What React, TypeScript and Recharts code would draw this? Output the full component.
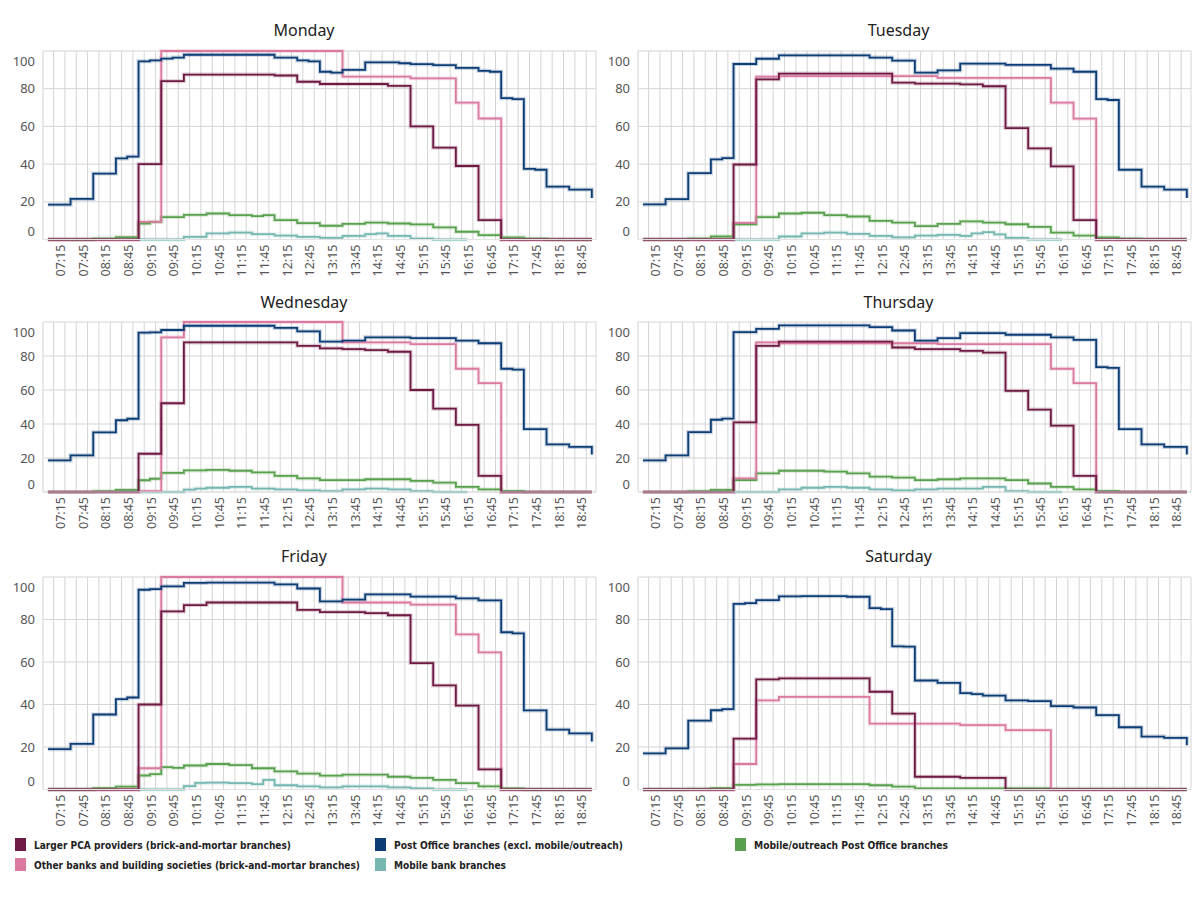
import { LineChart, Line, XAxis, YAxis, CartesianGrid } from "recharts";

const N = null;

// 15-minute slots, 07:00 .. 18:45
const SLOTS = [
  "07:00", "07:15", "07:30", "07:45", "08:00", "08:15", "08:30", "08:45",
  "09:00", "09:15", "09:30", "09:45", "10:00", "10:15", "10:30", "10:45",
  "11:00", "11:15", "11:30", "11:45", "12:00", "12:15", "12:30", "12:45",
  "13:00", "13:15", "13:30", "13:45", "14:00", "14:15", "14:30", "14:45",
  "15:00", "15:15", "15:30", "15:45", "16:00", "16:15", "16:30", "16:45",
  "17:00", "17:15", "17:30", "17:45", "18:00", "18:15", "18:30", "18:45",
];

const TICK_LABELS = [
  "07:15", "07:45", "08:15", "08:45", "09:15", "09:45", "10:15", "10:45",
  "11:15", "11:45", "12:15", "12:45", "13:15", "13:45", "14:15", "14:45",
  "15:15", "15:45", "16:15", "16:45", "17:15", "17:45", "18:15", "18:45",
];

const Y_TICKS = [0, 20, 40, 60, 80, 100];

// 48 slot values + the closing value drawn at the right end of each step line
const MON_PCA = [0,0,0,0,0,0,0,0, 40,40,84,84, 87.5,87.5,87.5,87.5,87.5,87.5,87.5,87.5, 87,87,83.7,83.7, 82.5,82.5,82.5,82.5,82.5,82.5,81.5,81.5, 60,60,48.7,48.7, 39,39,10.3,10.3, 0,0,0,0,0,0,0,0, 0];
const MON_PO = [18.5,18.5,21.5,21.5,35,35,43,44, 94.5,95,96,96.5, 98,98,98,98,98,98,98,98, 96.5,96.5,95,94.5, 89,88.5,90,90,94,94,94,93.5, 93,93,92.5,92.5, 91,91,89.5,89, 75,74.5,37.5,37,28,28,26.5,26.5, 22];
const MON_MOB_PO = [0,0,0,0,0.5,0.5,1.2,1.2, 8.5,9.4,11.9,11.9, 13.1,13.1,13.8,13.8,12.9,12.9,12.4,12.9, 10.3,10.3,8.7,8.7, 7.3,7.3,8.3,8.3,9,9,8.5,8.5, 8,8,6.4,6.4, 4.1,4.1,2.3,2.3, 1.1,1.1,0.4,0.4,0,0,0,0, 0];
const MON_OTHER = [0,0,0,0,0,0,0,0, 9.4,9.4,100,100, 100,100,100,100,100,100,100,100, 100,100,100,100, 100,100,86.4,86.4,86.4,86.4,86.4,86.4, 85.5,85.5,85.5,85.5, 72.6,72.6,64.2,64.2, 0,0,0,0,0,0,0,0, 0];
const MON_MOB_BANK = [N,N,N,N,N,N,N,N, 0,0,0,0, 1.4,1.4,3.2,3.2,3.7,3.7,2.8,2.8, 2.1,2.1,1.4,1.4, 0.9,0.9,1.9,1.9,2.8,3.2,1.9,1.9, 0.5,0.5,0,0, 0,0,N,N, N,N,N,N,N,N,N,N, N];

const TUE_PCA = [0,0,0,0,0,0,0,0, 39.8,39.8,85,85, 88,88,88,88,88,88,88,88, 88,88,83.2,83.2, 82.7,82.7,82.7,82.7,82.3,82.3,81.3,81.3, 59.1,59.1,48.3,48.3, 38.8,38.8,10.3,10.3, 0,0,0,0,0,0,0,0, 0];
const TUE_PO = [18.6,18.6,21.4,21.4,35.2,35.2,42.5,43.2, 93.1,93.1,95.9,95.9, 97.7,97.7,97.7,97.7,97.7,97.7,97.7,97.7, 96.5,96.5,94.9,94.9, 88.5,88.5,89.7,89.7,93.3,93.3,93.3,93.3, 92.6,92.6,92.6,92.6, 90.6,90.6,89,89, 74.5,74,37,37,28,28,26.5,26.5, 22];
const TUE_MOB_PO = [0,0,0,0,0.5,0.5,1.6,1.6, 8.1,8.1,11.9,11.9, 13.8,13.8,14.2,14.2,12.9,12.9,12.2,12.2, 9.9,9.9,9,9, 7.1,7.1,8.3,8.3,9.6,9.6,9,9, 8.1,8.1,6.7,6.7, 3.7,3.7,2.1,2.1, 1.1,1.1,0.4,0.4,0,0,0,0, 0];
const TUE_OTHER = [0,0,0,0,0,0,0,0, 8.8,8.8,86.4,86.4, 86.7,86.7,86.7,86.7,86.7,86.7,86.7,86.7, 86.7,86.7,86.7,86.7, 86.7,86.7,85.7,85.7,85.7,85.7,85.7,85.7, 85.7,85.7,85.7,85.7, 72.6,72.6,64.1,64.1, 0,0,0,0,0,0,0,0, 0];
const TUE_MOB_BANK = [N,N,N,N,N,N,N,N, 0,0,0,0, 1.6,1.6,3.2,3.2,3.7,3.7,3,3, 1.9,1.9,1.1,1.1, 2.1,2.1,2.5,2.5,1.9,3.2,3.9,2.7, 0.9,0.9,0,0, 0,0,N,N, N,N,N,N,N,N,N,N, N];

const WED_PCA = [0,0,0,0,0,0,0,0, 22.5,22.5,52.2,52.2, 88,88,88,88,88,88,88,88, 88,88,86,86, 84.5,84.5,84,84,83.5,83.5,82.5,82.5, 60,60,49,49, 39.5,39.5,9.5,9.5, 0,0,0,0,0,0,0,0, 0];
const WED_PO = [18.6,18.6,21.6,21.6,35.1,35.1,42.2,43.1, 93.7,93.9,95.3,95.3, 97.8,97.8,97.8,97.8,97.8,97.8,97.8,97.8, 96.5,96.5,94.5,94.5, 88.5,88.5,89,89,91,91,91,91, 90.5,90.5,90.5,90.5, 89,89,87.5,87.5, 72.5,72,37,37,28,28,26.5,26.5, 22];
const WED_MOB_PO = [0,0,0,0,0.4,0.4,1.2,1.2, 6.9,7.8,11.2,11.2, 12.7,12.7,13,13,12.5,12.5,11.5,11.5, 9.5,9.5,8,8, 7,7,7,7,7.5,7.5,7.5,7.5, 6.5,6.5,5.5,5.5, 3,3,1.5,1.5, 0.5,0.5,0,0,0,0,0,0, 0];
const WED_OTHER = [0,0,0,0,0,0,0,0, 0.5,0.5,91,91, 100,100,100,100,100,100,100,100, 100,100,100,100, 100,100,88,88,88,88,88,88, 87,87,87,87, 72.5,72.5,64,64, 0,0,0,0,0,0,0,0, 0];
const WED_MOB_BANK = [N,N,N,N,N,N,N,N, 0,0,0,0, 1.4,2,2.5,2.5,3,3,2,2, 1.5,1.5,1,1, 0.5,0.5,1.5,1.5,2,2,1.5,1.5, 0.5,0.5,0,0, 0,0,N,N, N,N,N,N,N,N,N,N, N];

const THU_PCA = [0,0,0,0,0,0,0,0, 41,41,86,86, 88.5,88.5,88.5,88.5,88.5,88.5,88.5,88.5, 88.5,88.5,85,85, 84,84,84,84,83,83,82,82, 59.5,59.5,48.5,48.5, 39,39,9.5,9.5, 0,0,0,0,0,0,0,0, 0];
const THU_PO = [18.6,18.6,21.5,21.5,35.2,35.2,42.5,43.2, 94,94,96,96, 98,98,98,98,98,98,98,98, 97,97,95,95, 89,89,90.5,90.5,93.5,93.5,93.5,93.5, 92.5,92.5,92.5,92.5, 91,91,89.5,89.5, 73.5,73,37,37,28,28,26.5,26.5, 22];
const THU_MOB_PO = [0,0,0,0,0.4,0.4,1.2,1.2, 7,7,11,11, 12.5,12.5,12.5,12.5,12,12,11,11, 9,9,8.5,8.5, 7,7,7.5,7.5,8,8,8,8, 7,7,5,5, 3,3,1.5,1.5, 0.5,0.5,0,0,0,0,0,0, 0];
const THU_OTHER = [0,0,0,0,0,0,0,0, 8,8,88,88, 87.5,87.5,87.5,87.5,87.5,87.5,87.5,87.5, 87.5,87.5,87.5,87.5, 87.5,87.5,87,87,87,87,87,87, 87,87,87,87, 72.5,72.5,64,64, 0,0,0,0,0,0,0,0, 0];
const THU_MOB_BANK = [N,N,N,N,N,N,N,N, 0,0,0,0, 1.5,1.5,2.5,2.5,3,3,2.5,2.5, 1.5,1.5,1,1, 1.5,1.5,2,2,2,2,3,3, 0.5,0.5,0,0, 0,0,N,N, N,N,N,N,N,N,N,N, N];

const FRI_PCA = [0,0,0,0,0,0,0,0, 40,40,83.8,83.8, 86.8,86.8,88,88,88,88,88,88, 88,88,84.5,84.5, 83.5,83.5,83.5,83.5,83,83,82,82, 59.5,59.5,49,49, 39.5,39.5,9.5,9.5, 0,0,0,0,0,0,0,0, 0];
const FRI_PO = [19,19,21.5,21.5,35.3,35.3,42.5,43.3, 94,94.3,95.6,95.6, 97.2,97.2,97.4,97.4,97.4,97.4,97.4,97.4, 96.5,96.5,94.6,94.6, 88.5,88.5,89.4,89.4,91.8,91.8,91.8,91.8, 90.8,90.8,90.8,90.8, 89.9,89.9,89,89, 74,73.5,37.2,37.2,28.2,28.2,26.4,26.4, 22.6];
const FRI_MOB_PO = [0,0,0,0,0.6,0.6,1.4,1.4, 6.6,7.2,10.5,10.2, 11.3,11.3,12,12,11.5,11.5,10,10, 8.5,8.5,7.5,7.5, 6.5,6.5,7,7,7,7,6,6, 5.5,5.5,4.5,4.5, 3,3,1.5,1.5, 0.5,0.5,0,0,0,0,0,0, 0];
const FRI_OTHER = [0,0,0,0,0,0,0,0, 10,10,100,100, 100,100,100,100,100,100,100,100, 100,100,100,100, 100,100,88,88,88,88,88,88, 87,87,87,87, 73,73,64.5,64.5, 0,0,0,0,0,0,0,0, 0];
const FRI_MOB_BANK = [N,N,N,N,N,N,N,N, 0,0,0,0, 1.6,3.1,3.2,3.2,3,3,2.5,4.5, 2,2,1.5,1.5, 1,1,1.5,1.5,1.5,1.5,1,1, 0.5,0.5,0,0, 0,0,N,N, N,N,N,N,N,N,N,N, N];

const SAT_PCA = [0,0,0,0,0,0,0,0, 23.9,23.9,51.8,51.8, 52.3,52.3,52.3,52.3,52.3,52.3,52.3,52.3, 46,46,35.7,35.7, 6,6,6,6,5.5,5.5,5.5,5.5, 0,0,0,0, 0,0,0,0, 0,0,0,0,0,0,0,0, 0];
const SAT_PO = [17,17,19.4,19.4,32.4,32.4,37.3,37.8, 87.4,87.7,89.1,89.1, 90.9,90.9,91,91,91,91,90.7,90.7, 85.4,84.9,67.4,67.2, 51.3,51.3,50.2,50.2,45.4,44.9,44.2,44.2, 41.9,41.9,41.6,41.6, 39.2,39.2,38.6,38.6, 35,35,29.3,29.3,24.9,24.9,24.3,24.3, 20.8];
const SAT_MOB_PO = [0,0,0,0,0.3,0.3,0.6,0.6, 2.2,2.2,2.4,2.4, 2.5,2.5,2.5,2.5,2.5,2.5,2.5,2.5, 2,2,1.4,1.4, 0.5,0.5,0.5,0.5,0.5,0.5,0.5,0.5, 0.5,0.5,0.5,0.5, 0.3,0.3,0.3,0.3, 0.3,0.3,0.3,0.3,0.3,0.3,0,0, 0];
const SAT_OTHER = [0,0,0,0,0,0,0,0, 12,12,41.9,41.9, 43.6,43.6,43.6,43.6,43.6,43.6,43.6,43.6, 31,31,31,31, 31,31,31,31,30.3,30.3,30.3,30.3, 27.9,27.9,27.9,27.9, 0,0,0,0, 0,0,0,0,0,0,0,0, 0];
const SAT_MOB_BANK: (number | null)[] = [];

const DAYS = [
  { name: "Monday", pca: MON_PCA, po: MON_PO, mpo: MON_MOB_PO, oth: MON_OTHER, mb: MON_MOB_BANK },
  { name: "Tuesday", pca: TUE_PCA, po: TUE_PO, mpo: TUE_MOB_PO, oth: TUE_OTHER, mb: TUE_MOB_BANK },
  { name: "Wednesday", pca: WED_PCA, po: WED_PO, mpo: WED_MOB_PO, oth: WED_OTHER, mb: WED_MOB_BANK },
  { name: "Thursday", pca: THU_PCA, po: THU_PO, mpo: THU_MOB_PO, oth: THU_OTHER, mb: THU_MOB_BANK },
  { name: "Friday", pca: FRI_PCA, po: FRI_PO, mpo: FRI_MOB_PO, oth: FRI_OTHER, mb: FRI_MOB_BANK },
  { name: "Saturday", pca: SAT_PCA, po: SAT_PO, mpo: SAT_MOB_PO, oth: SAT_OTHER, mb: SAT_MOB_BANK },
];

// drawing order: last one ends up on top
const SERIES = [
  { key: "mb", name: "Mobile bank branches", color: "#76b7b2" },
  { key: "mpo", name: "Mobile/outreach Post Office branches", color: "#59a14f" },
  { key: "oth", name: "Other banks and building societies (brick-and-mortar branches)", color: "#da7aa0" },
  { key: "po", name: "Post Office branches (excl. mobile/outreach)", color: "#0d3d75" },
  { key: "pca", name: "Larger PCA providers (brick-and-mortar branches)", color: "#6e1a45" },
];

// legend slots; w = text width in the original
const LEGEND = [
  { key: "pca", x: 15, y: 838, w: 257 },
  { key: "oth", x: 15, y: 858, w: 326 },
  { key: "po", x: 375, y: 838, w: 229 },
  { key: "mb", x: 375, y: 858, w: 112 },
  { key: "mpo", x: 735, y: 838, w: 194 },
];

const COL_X = [0, 594.5];
const ROWS = [
  { plotTop: 50.5, plotH: 188.5, titleY: 30 },
  { plotTop: 322.3, plotH: 170, titleY: 302 },
  { plotTop: 576.5, plotH: 212.5, titleY: 556 },
];

const FONT = "'Noto Sans', 'DejaVu Sans', sans-serif";
const TOP_PAD = 10;

function toMin(s: string) {
  const [h, m] = s.split(":").map(Number);
  return h * 60 + m;
}

function toLabel(v: number) {
  const h = Math.floor(v / 60);
  const m = v % 60;
  return `${String(h).padStart(2, "0")}:${String(m).padStart(2, "0")}`;
}

const TICK_MINUTES = SLOTS.map(toMin);

// step centred on each slot: shift back half a slot, close with an end point
function buildRows(day: any) {
  const rows = SLOTS.map((s, i) => {
    const row: any = { t: toMin(s) - 7.5 };
    SERIES.forEach((sr) => (row[sr.key] = day[sr.key][i] ?? null));
    return row;
  });
  const end: any = { t: toMin(SLOTS[SLOTS.length - 1]) + 7.5 };
  SERIES.forEach((sr) => (end[sr.key] = day[sr.key][SLOTS.length] ?? null));
  rows.push(end);
  return rows;
}

function Panel({ day, col, row }: { day: any; col: number; row: number }) {
  const { plotTop, plotH, titleY } = ROWS[row];
  const left = COL_X[col];
  const data = buildRows(day);
  const baseY = TOP_PAD + plotH;

  return (
    <>
      <div
        style={{
          position: "absolute",
          left,
          top: titleY - 11,
          width: 608,
          textAlign: "center",
          fontFamily: FONT,
          fontSize: 16,
          lineHeight: "22px",
          color: "#222",
        }}
      >
        {day.name}
      </div>
      <div style={{ position: "absolute", left, top: plotTop - TOP_PAD }}>
        <LineChart
          width={600}
          height={TOP_PAD + plotH + 50}
          data={data}
          margin={{ top: TOP_PAD, right: 4, bottom: 0, left: 0 }}
        >
          <CartesianGrid stroke="#d5d5d5" strokeWidth={1} />
          <XAxis
            dataKey="t"
            type="number"
            domain={[406, 1138]}
            ticks={TICK_MINUTES}
            interval={0}
            height={50}
            tickLine={false}
            axisLine={{ stroke: "#e2e2e2" }}
            tick={(p: any) => {
              const label = toLabel(p.payload.value);
              if (!TICK_LABELS.includes(label)) return <g />;
              const ty = baseY + 5;
              return (
                <text
                  x={p.x}
                  y={ty}
                  transform={`rotate(-90, ${p.x}, ${ty})`}
                  textAnchor="end"
                  fontSize={12.5}
                  fontFamily={FONT}
                  fill="#555"
                >
                  {label}
                </text>
              );
            }}
          />
          <YAxis
            type="number"
            domain={[0, 100]}
            ticks={Y_TICKS}
            interval={0}
            width={43}
            tickLine={false}
            axisLine={{ stroke: "#e6e6e6" }}
            tick={(p: any) => {
              const v = p.payload.value;
              const shift = v === 100 ? 10 : v === 0 ? -8 : 0;
              return (
                <text
                  x={35}
                  y={p.y + shift + 4.5}
                  textAnchor="end"
                  fontSize={13}
                  fontFamily={FONT}
                  fill="#555"
                >
                  {v}
                </text>
              );
            }}
          />
          {SERIES.map((s) => (
            <Line
              key={`halo-${s.key}`}
              type="stepAfter"
              dataKey={s.key}
              stroke={s.color}
              strokeOpacity={0.22}
              strokeWidth={4}
              dot={false}
              activeDot={false}
              isAnimationActive={false}
            />
          ))}
          {SERIES.map((s) => (
            <Line
              key={s.key}
              type="stepAfter"
              dataKey={s.key}
              stroke={s.color}
              strokeWidth={1.8}
              dot={false}
              activeDot={false}
              isAnimationActive={false}
            />
          ))}
        </LineChart>
      </div>
    </>
  );
}

function Legend() {
  return (
    <svg
      width={1200}
      height={60}
      style={{ position: "absolute", left: 0, top: 825 }}
    >
      {LEGEND.map((l) => {
        const s = SERIES.find((x) => x.key === l.key)!;
        const y = l.y - 825;
        return (
          <g key={l.key}>
            <rect x={l.x} y={y} width={11} height={13} fill={s.color} />
            <text
              x={l.x + 19}
              y={y + 10.5}
              textLength={l.w}
              lengthAdjust="spacingAndGlyphs"
              fontFamily="'DejaVu Sans Condensed', 'Roboto', sans-serif"
              fontWeight={700}
              fontSize={10.3}
              fill="#222"
            >
              {s.name}
            </text>
          </g>
        );
      })}
    </svg>
  );
}

export default function App() {
  return (
    <div
      style={{
        position: "absolute",
        left: 0,
        top: 0,
        width: 1200,
        height: 900,
        background: "#fff",
      }}
    >
      {DAYS.map((d, i) => (
        <Panel key={d.name} day={d} col={i % 2} row={Math.floor(i / 2)} />
      ))}
      <Legend />
    </div>
  );
}
